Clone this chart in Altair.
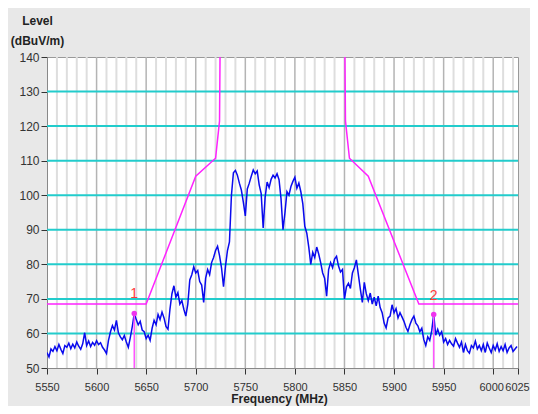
import altair as alt
import pandas as pd

# Spectrum trace, 2 MHz steps from 5550 MHz
f_start = 5550
f_step = 2
levels = [
    54.5, 53.2, 55.5, 54.8, 56.2, 55.0, 56.8, 55.4, 54.2, 56.5,
    56.0, 57.2, 55.6, 56.9, 55.8, 57.5, 56.3, 55.4, 57.0, 60.2,
    56.5, 57.8, 56.2, 57.4, 56.6, 57.9, 56.8, 57.3, 56.0, 55.2,
    54.2, 58.0, 60.5, 62.3, 61.0, 63.8, 60.2, 59.0, 58.2, 59.4,
    57.5, 56.0, 58.8, 62.0, 65.8, 64.0, 62.5, 63.5, 61.0, 60.5,
    58.5, 59.5, 58.0, 61.5, 63.8, 62.5, 65.5, 64.0, 66.2, 64.5,
    62.0, 61.2, 67.0, 71.5, 73.8, 70.5, 71.8, 68.5, 69.5, 67.0,
    65.0, 68.5, 75.5, 77.0, 79.3, 77.5, 78.2, 75.0, 74.0, 69.0,
    76.0, 78.5, 77.0, 80.5, 82.0, 84.0, 85.2, 82.5, 79.0, 73.5,
    79.5, 84.0, 86.5, 100.0, 106.5, 107.2, 105.8, 103.5, 101.5, 98.0,
    94.0, 101.8, 103.5, 105.5, 107.3, 106.2, 107.0, 103.0, 100.5, 90.5,
    99.5, 103.8, 102.2, 104.6, 105.8, 105.0, 106.2, 104.5, 99.0, 90.0,
    95.0, 101.0, 100.0, 102.5, 104.0, 105.2, 102.0, 103.5, 101.0, 97.5,
    91.0, 89.0, 85.0, 80.0, 83.5, 82.0, 85.0, 83.0, 80.5, 77.5,
    76.0, 70.8, 78.5, 80.5, 79.0, 81.5, 82.3, 79.5, 77.8, 78.5,
    70.0, 73.5, 74.5, 73.0, 77.5, 79.0, 81.3, 77.0, 72.8, 69.0,
    74.8, 71.5, 69.5, 71.7, 68.5, 70.5, 68.0, 70.8, 67.5, 66.0,
    63.0, 61.6, 64.5, 65.0, 68.3, 66.0, 67.2, 64.5, 66.0, 64.8,
    63.5, 61.8, 60.6, 62.5, 64.0, 65.0, 63.0, 62.2, 60.5, 61.5,
    58.2, 56.5, 59.0, 58.0, 60.8, 65.5, 59.5, 61.2, 59.5, 60.5,
    57.5, 58.5, 56.8, 58.0, 57.0, 56.3, 58.5, 57.2, 56.0, 57.5,
    54.5, 56.8, 55.0, 54.3, 56.5, 55.8, 57.8, 55.5, 56.5, 55.0,
    56.8, 54.5, 57.2, 55.8, 54.5, 56.5, 55.2, 57.0, 54.8, 56.2,
    55.0, 56.8, 54.5, 55.8, 56.5, 54.8, 55.5, 56.2,
]
freqs = [f_start + f_step * i for i in range(len(levels))]

# Limit mask (two segments)
mask_left_freq = [5550, 5650, 5700, 5720, 5724, 5724.5]
mask_left_level = [68.5, 68.5, 105.5, 110.7, 121.5, 140]
mask_right_freq = [5850.5, 5851, 5855, 5874, 5925, 6025]
mask_right_level = [140, 121.5, 110.7, 105.5, 68.5, 68.5]

# Markers
marker_names = ["1", "2"]
marker_freq = [5638, 5940]
marker_level = [65.8, 65.5]
marker_label_level = [71.4, 70.8]

x_ticks = [5550, 5600, 5650, 5700, 5750, 5800, 5850, 5900, 5950, 6000, 6025]
y_ticks = [50, 60, 70, 80, 90, 100, 110, 120, 130, 140]
minor_grid = [f for f in range(5560, 6025, 10) if f % 50 != 0]
major_grid = [f for f in range(5600, 6025, 50)]
h_grid = [60, 70, 80, 90, 100, 110, 120, 130]

trace_df = pd.DataFrame({"f": freqs, "v": levels})
mask_df = pd.DataFrame({
    "f": mask_left_freq + mask_right_freq,
    "v": mask_left_level + mask_right_level,
    "seg": ["L"] * len(mask_left_freq) + ["R"] * len(mask_right_freq),
})
mk_df = pd.DataFrame({"f": marker_freq, "v": marker_level, "lv": marker_label_level,
                      "name": marker_names, "base": [50, 50]})

font = "Liberation Sans"
xs = alt.Scale(domain=[5550, 6025], nice=False, zero=False)
ys = alt.Scale(domain=[50, 140], nice=False, zero=False)

x_label_offset = {
    "condition": [
        {"test": "datum.value == 6025", "value": -1},
        {"test": "datum.value == 6000", "value": -2},
    ],
    "value": 0,
}

x_axis = alt.Axis(values=x_ticks, grid=False, labelOverlap=False, labelFlush=False,
                  labelBound=False, labelFont=font, labelFontSize=11, labelColor="#333333",
                  labelOffset=x_label_offset,
                  tickColor="#333333", tickSize=6, domainColor="#888888", labelPadding=7,
                  title="Frequency (MHz)", titleFont=font, titleFontSize=12,
                  titleFontWeight="bold", titleColor="#222222", titleX=232,
                  titleY=37, titleAlign="center", titleBaseline="bottom", format="d")
y_axis = alt.Axis(values=y_ticks, grid=False, labelOverlap=False, labelFont=font,
                  labelFontSize=12, labelColor="#333333", tickColor="#333333", tickSize=6,
                  domainColor="#888888", labelPadding=2,
                  title=["Level", "(dBuV/m)"], titleFont=font, titleFontSize=12,
                  titleFontWeight="bold", titleColor="#222222", titleAngle=0,
                  titleX=-10, titleY=-42, titleAlign="center", titleBaseline="top",
                  titleLineHeight=20)

X = alt.X("f:Q", scale=xs, axis=x_axis)
Y = alt.Y("v:Q", scale=ys, axis=y_axis)

minor = alt.Chart(pd.DataFrame({"f": minor_grid})).mark_rule(
    color="#dedede", strokeWidth=2).encode(x=X)
major = alt.Chart(pd.DataFrame({"f": major_grid})).mark_rule(
    color="#b4b4b4", strokeWidth=1.5).encode(x=X)
hgrid = alt.Chart(pd.DataFrame({"v": h_grid})).mark_rule(
    color="#22cccc", strokeWidth=2).encode(y=Y)

mask = alt.Chart(mask_df).mark_line(color="#ff22ff", strokeWidth=1.5, clip=True).encode(
    x=X, y=Y, detail="seg:N")

trace = alt.Chart(trace_df).mark_line(color="#0a0aee", strokeWidth=1.5, clip=True).encode(
    x=X, y=Y)

mk_rule = alt.Chart(mk_df).mark_rule(color="#ff55ff", strokeWidth=1.5).encode(
    x=X, y=Y, y2="base:Q")
mk_dot = alt.Chart(mk_df).mark_circle(color="#ee33ee", size=30, opacity=1).encode(
    x=X, y=Y)
mk_text = alt.Chart(mk_df).mark_text(color="#ff3b3b", font=font, fontSize=14,
                                     baseline="middle", align="center").encode(
    x=X, y=alt.Y("lv:Q", scale=ys, axis=y_axis), text="name:N")

chart = alt.layer(minor, major, hgrid, mask, trace, mk_rule, mk_dot, mk_text).properties(
    width=471, height=311,
    autosize=alt.AutoSizeParams(type="none"),
    padding={"left": 39, "top": 49, "right": 12, "bottom": 38},
    background="#e8e8e8",
).configure_view(fill="white", stroke="#999999", strokeWidth=1)

chart.save("out.html", embed_options={"renderer": "svg", "actions": False})
